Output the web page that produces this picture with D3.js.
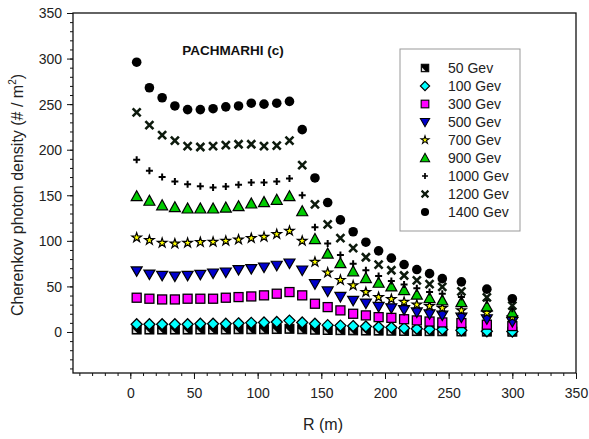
<!DOCTYPE html>
<html><head><meta charset="utf-8">
<script src="https://cdn.jsdelivr.net/npm/d3@7"></script>
<style>body{margin:0;background:#fff}svg{display:block}text{font-family:Arial,"Liberation Sans",sans-serif}</style>
</head><body><svg id="c" width="589" height="439"></svg>
<script>
const R = [5,15,25,35,45,55,65,75,85,95,105,115,125,135,145,155,165,175,185,195,205,215,225,235,245,260,280,300];
const s50   = [2.7,2.7,2.7,2.7,2.7,2.8,2.8,2.8,3,3,3,3.2,3.5,3,2.5,2.2,2,1.8,1.6,1.5,1.4,1.2,1,0.9,0.8,0.6,0.4,0.3];
const s100  = [8.5,8.5,8.5,8.5,8.5,9,9,9,9.5,10,10.5,11,12.5,10.5,9,7.5,7,6.5,6,5.5,5,4.2,3.5,3,2.8,1.8,0.8,0.5];
const s300  = [37.6,36.5,35.7,35.7,36.5,36.5,36.5,37.6,38.3,39,40.2,42,43.8,40.2,31,27.3,23.7,20,18.2,16.3,15.5,14,12.7,11.5,10.5,9.8,8,6.5];
const s500  = [67,63.5,62.2,61.4,62.2,63.3,64.7,65.8,68.4,69.5,71.3,73.2,75.7,68,53,45,39,34.7,31.7,28,26.5,24.5,22,20,18.5,16.3,14.5,11.5];
const s700  = [103.6,100.7,97.7,97,97.7,98.5,98.8,99.9,101.4,102.9,104.3,107.3,110.9,100,76.8,65,57,51,43.8,38.3,36,33,30,28.4,26.2,23.7,21,16.3];
const s900  = [149,144,139,137,135.5,135.5,135.5,136.5,138,141,142.5,145,149,132.5,102,86,75.5,66.6,59.2,54,50,46,41,37.2,34.7,32.8,28,21.5];
const s1000 = [189,177,170,165,162,160,158.5,159.5,161.5,164,164,165,168.5,150,115,97,84.5,75,67.7,61.4,56,52,48,43.8,42,38.3,34.7,25.5];
const s1200 = [241,227,216,210,204,203,204,205,206,206,204,204.5,210,183,140,118,103,92,82,74,67.7,62,56.6,52.5,49.5,44.6,38,29];
const s1400 = [296,268,257,248,244,244,245,247,248,251,250,251,253,222,169,142,123,110,98.5,89,81,74,68.5,64,58.5,55,47,36.5];
const seriesNames = ["50 Gev","100 Gev","300 Gev","500 Gev","700 Gev","900 Gev","1000 Gev","1200 Gev","1400 Gev"];
const seriesValues = [s50,s100,s300,s500,s700,s900,s1000,s1200,s1400];
const xTicks = [0,50,100,150,200,250,300,350];
const yTicks = [0,50,100,150,200,250,300,350];
const minorTicks = d3.range(-40,351,10);

const svg = d3.select("#c");
const L=73, Rt=576, T=13, B=373;
const x = d3.scaleLinear().domain([-45,350]).range([L,Rt]);
const y = d3.scaleLinear().domain([-45,350]).range([B,T]);

// axes
const gx = svg.append("g").attr("transform",`translate(0,${B})`);
gx.call(d3.axisBottom(x).tickValues(minorTicks).tickSize(3).tickFormat(""));
const gx2 = svg.append("g").attr("transform",`translate(0,${B})`);
gx2.call(d3.axisBottom(x).tickValues(xTicks).tickSize(6).tickPadding(9));
const gy = svg.append("g").attr("transform",`translate(${L},0)`);
gy.call(d3.axisLeft(y).tickValues(minorTicks).tickSize(3).tickFormat(""));
const gy2 = svg.append("g").attr("transform",`translate(${L},0)`);
gy2.call(d3.axisLeft(y).tickValues(yTicks).tickSize(6).tickPadding(5));
svg.selectAll(".domain").remove();
svg.selectAll(".tick line").attr("stroke","#111").attr("stroke-width",1);
svg.selectAll(".tick text").attr("font-size",14).attr("fill","#222").attr("font-family","Arial, 'Liberation Sans', sans-serif");
gy2.selectAll(".tick text").attr("dy","0.35em");

svg.append("rect").attr("x",L).attr("y",T).attr("width",Rt-L).attr("height",B-T)
  .attr("fill","none").attr("stroke","#111").attr("stroke-width",1.3);

// labels
svg.append("text").attr("x",323).attr("y",430).attr("text-anchor","middle").attr("font-size",16).attr("fill","#222").text("R (m)");
const yl = svg.append("text").attr("transform","translate(23,195) rotate(-90)").attr("text-anchor","middle").attr("font-size",16).attr("fill","#222");
yl.append("tspan").text("Cherenkov photon density (# / m");
yl.append("tspan").attr("font-size",10).attr("dy",-7).text("2");
yl.append("tspan").attr("dy",7).text(")");
svg.append("text").attr("x",233).attr("y",55).attr("text-anchor","middle").attr("font-size",13.5).attr("font-weight","bold").attr("fill","#111").text("PACHMARHI (c)");

// markers
function drawMarker(g, i){
  switch(i){
    case 0:
      g.append("rect").attr("x",-4.5).attr("y",-4.5).attr("width",9).attr("height",9).attr("fill","#000").attr("stroke","#000");
      g.append("path").attr("d","M-3.5,3.5L-3.5,-0.5L0.5,3.5Z").attr("fill","#ddd");
      break;
    case 1:
      g.append("path").attr("d","M0,-5.5L5.5,0L0,5.5L-5.5,0Z").attr("fill","#00ffff").attr("stroke","#000").attr("stroke-width",1.3);
      break;
    case 2:
      g.append("rect").attr("x",-4.5).attr("y",-4.5).attr("width",9).attr("height",9).attr("fill","#ff00ff").attr("stroke","#000").attr("stroke-width",1.3);
      break;
    case 3:
      g.append("path").attr("d","M-5.5,-4L5.5,-4L0,5.5Z").attr("fill","#0000cc").attr("stroke","#000").attr("stroke-width",1.2);
      break;
    case 4:
      g.append("path").attr("d",d3.symbol(d3.symbolStar,28)()).attr("fill","#ffff00").attr("stroke","#000").attr("stroke-width",1.2);
      break;
    case 5:
      g.append("path").attr("d","M-5.5,4.5L5.5,4.5L0,-5.5Z").attr("fill","#00cc00").attr("stroke","#000").attr("stroke-width",1.2);
      break;
    case 6:
      g.append("path").attr("d","M-3.5,0L3.5,0M0,-3.5L0,3.5").attr("stroke","#000").attr("stroke-width",2);
      break;
    case 7:
      g.append("path").attr("d","M-4,-4L4,4M-4,4L4,-4").attr("stroke","#0d1a0d").attr("stroke-width",2.6);
      break;
    case 8:
      g.append("circle").attr("r",4.8).attr("fill","#000");
      break;
  }
}

seriesValues.forEach((vals,i)=>{
  const g = svg.append("g");
  vals.forEach((v,j)=>{
    const m = g.append("g").attr("transform",`translate(${x(R[j])},${y(v)})`);
    drawMarker(m,i);
  });
});

// legend
const lg = svg.append("g");
lg.append("rect").attr("x",400).attr("y",49).attr("width",120).attr("height",182).attr("fill","#fff").attr("stroke","#999").attr("stroke-width",1);
seriesNames.forEach((n,i)=>{
  const cy = 68 + i*18;
  const m = lg.append("g").attr("transform",`translate(425,${cy}) scale(0.85)`);
  drawMarker(m,i);
  lg.append("text").attr("x",448).attr("y",cy).attr("dy","0.35em").attr("font-size",14).attr("fill","#222").text(n);
});
</script></body></html>
